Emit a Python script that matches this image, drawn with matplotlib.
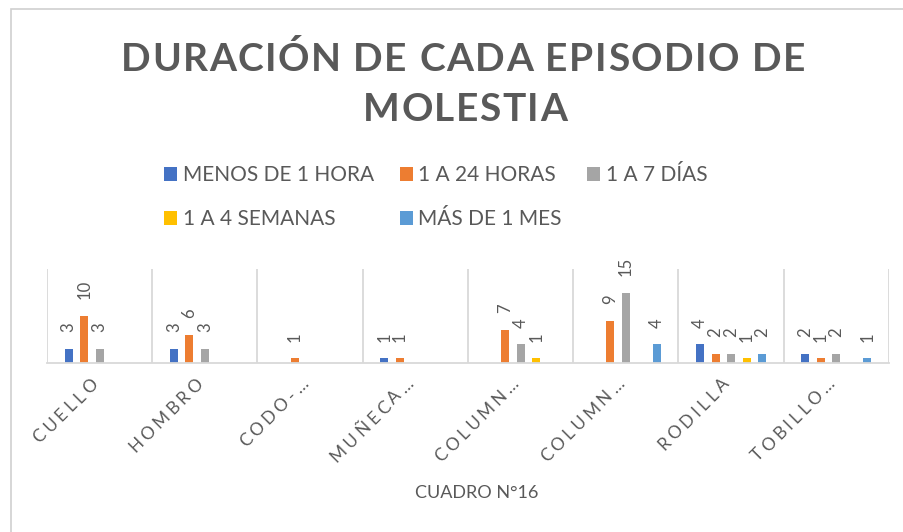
import matplotlib
matplotlib.use("Agg")
import matplotlib.pyplot as plt
import numpy as np
from matplotlib.font_manager import FontProperties, findfont
from matplotlib.ft2font import FT2Font
from matplotlib.transforms import offset_copy, blended_transform_factory
from matplotlib.patches import Rectangle

# datos
regiones = ["CUELLO", "HOMBRO", "CODO-…", "MUÑECA…", "COLUMN…", "COLUMN…", "RODILLA", "TOBILLO…"]
menos_1_hora = [3, 3, 0, 1, 0, 0, 4, 2]
de_1_a_24_horas = [10, 6, 1, 1, 7, 9, 2, 1]
de_1_a_7_dias = [3, 3, 0, 0, 4, 15, 2, 2]
de_1_a_4_semanas = [0, 0, 0, 0, 1, 0, 1, 0]
mas_de_1_mes = [0, 0, 0, 0, 0, 4, 2, 1]
nombres = ["MENOS DE 1 HORA", "1 A 24 HORAS", "1 A 7 DÍAS", "1 A 4 SEMANAS", "MÁS DE 1 MES"]
colores = ["#4472C4", "#ED7D31", "#A5A5A5", "#FFC000", "#5B9BD5"]

titulo = ["DURACIÓN DE CADA EPISODIO DE", "MOLESTIA"]
eje_x = "CUADRO N°16"

gris = "#595959"
DPI = 100


def avances(s, prop):
    font = FT2Font(findfont(prop))
    font.set_size(prop.get_size_in_points(), DPI)
    return [font.load_char(ord(c)).linearHoriAdvance / 65536 for c in s]


def texto_espaciado(fig, x, y, s, prop, tracking, transform, angle=0,
                    align="center", dx=0, dy=0, **kw):
    # texto con espaciado entre letras (como el de Excel)
    advs = avances(s, prop)
    total = sum(advs) + tracking * (len(s) - 1)
    pos = {"center": -total / 2, "right": -total, "left": 0}[align]
    c, sn = np.cos(np.radians(angle)), np.sin(np.radians(angle))
    for ch, a in zip(s, advs):
        tr = offset_copy(transform, fig=fig, x=dx + pos * c, y=dy + pos * sn, units="dots")
        fig.text(x, y, ch, transform=tr, fontproperties=prop, rotation=angle,
                 rotation_mode="anchor", ha="left", va="baseline", **kw)
        pos += a + tracking


fig = plt.figure(figsize=(9.04, 5.32), dpi=DPI)
W, H = 904, 532

# borde del area del grafico
fig.patches.append(Rectangle((11 / W, -0.5), 2, (H - 9) / H + 0.5, transform=fig.transFigure,
                             fill=False, edgecolor="#cfcfcf", lw=1.2))

ax = fig.add_axes([47 / W, 169 / H, 842 / W, 94 / H])
x = np.arange(len(regiones))
series = [menos_1_hora, de_1_a_24_horas, de_1_a_7_dias, de_1_a_4_semanas, mas_de_1_mes]
handles = []
for k, (vals, col, nom) in enumerate(zip(series, colores, nombres)):
    b = ax.bar(x + (k - 2) * 0.147, vals, width=0.076, color=col, label=nom)
    handles.append(b)
    ax.bar_label(b, labels=[str(v) if v else "" for v in vals], rotation=90,
                 padding=12, color=gris, fontsize=12, family="Lato")

ax.set_xlim(-0.5, 7.5)
ax.set_ylim(0, 20)
for side in ["top", "left", "right"]:
    ax.spines[side].set_visible(False)
ax.spines["bottom"].set_color("#d9d9d9")
ax.spines["bottom"].set_linewidth(1.3)
ax.set_xticks(x)
ax.set_xticks(np.arange(-0.5, 8, 1), minor=True)
ax.grid(which="minor", axis="x", color="#d9d9d9", lw=1.3)
ax.tick_params(which="both", length=0, labelbottom=False, labelleft=False)
ax.set_yticks([])

# etiquetas de categorias, giradas 45 grados
ptick = FontProperties(family="Lato", size=12.5)
tr_cat = blended_transform_factory(ax.transData, ax.transAxes)
for i, r in enumerate(regiones):
    texto_espaciado(fig, i, 0, r, ptick, 3.5, tr_cat, angle=45, align="right",
                    dx=-1, dy=-22, color=gris)

# titulo
ptit = FontProperties(family="Lato", weight="bold", size=28)
texto_espaciado(fig, 463 / W, (H - 71) / H, titulo[0], ptit, 1.5, fig.transFigure, color=gris)
texto_espaciado(fig, 465 / W, (H - 121) / H, titulo[1], ptit, 1.5, fig.transFigure, color=gris)

# titulo eje x
fig.text(477 / W, (H - 498) / H, eje_x, ha="center", va="baseline", color=gris,
         fontsize=13, family=["Liberation Sans Narrow", "Lato"])

# leyenda (orden por filas)
orden = [0, 3, 1, 4, 2]
fig.legend([handles[i] for i in orden], [nombres[i] for i in orden], ncol=3,
           loc="upper left", bbox_to_anchor=(154 / W, (H - 155) / H),
           frameon=False, borderpad=0, handlelength=0.62, handleheight=0.62,
           handletextpad=0.25, columnspacing=1.25, labelspacing=1.15,
           prop=FontProperties(family="Lato", size=15), labelcolor=gris)

fig.savefig("out.png", dpi=DPI)
